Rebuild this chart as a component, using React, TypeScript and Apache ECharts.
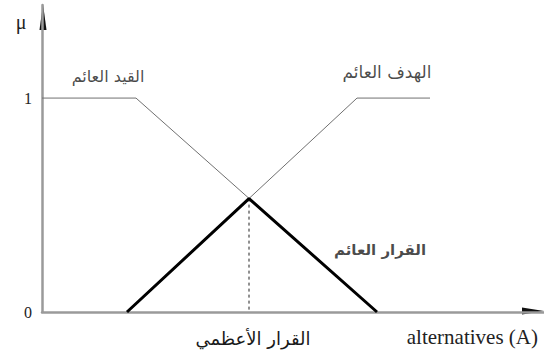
import { useEffect, useRef } from "react";
import * as echarts from "echarts";

// Membership functions over the alternatives axis
const constraintPts: number[][] = [[0, 1], [9.4, 1], [33.5, 0]];
const goalPts: number[][] = [[8.5, 0], [31.5, 1], [38.8, 1]];
const decisionPts: number[][] = [[8.5, 0], [20.7, 0.53], [33.5, 0]];
const optimumPts: number[][] = [[20.7, 0.53], [20.7, 0]];

// Curve names placed near their curves: x, y, text, font size, bold flag
const curveLabels: (number | string)[][] = [
  [6.6, 1.1, "القيد العائم", 16, 0],
  [34.5, 1.12, "الهدف العائم", 17, 0],
  [33.8, 0.29, "القرار العائم", 15, 1],
];

const optimumLabel = "القرار الأعظمي";
const xAxisTitle = "alternatives (A)";
const yAxisTitle = "μ";
const yTickValues = [0, 1];

export default function App() {
  const ref = useRef<HTMLDivElement>(null);

  useEffect(() => {
    if (!ref.current) return;
    document.body.style.margin = "0";
    const chart = echarts.init(ref.current, null, { renderer: "svg" });
    const arabicFont = "'DejaVu Sans', 'Noto Sans', sans-serif";
    const serifFont = "'Liberation Serif', 'DejaVu Serif', serif";

    chart.setOption({
      animation: false,
      backgroundColor: "#ffffff",
      grid: { left: 42, right: 0, top: 5, bottom: 47 },
      xAxis: {
        type: "value",
        min: 0,
        max: 50.2,
        axisLine: { show: true, lineStyle: { color: "#9a9a9a", width: 2.5 } },
        axisTick: { show: false },
        axisLabel: { show: false },
        splitLine: { show: false },
      },
      yAxis: {
        type: "value",
        min: 0,
        max: 1.435,
        interval: 1,
        axisLine: { show: true, lineStyle: { color: "#9a9a9a", width: 2.5 } },
        axisTick: { show: false },
        splitLine: { show: false },
        axisLabel: {
          showMaxLabel: false,
          margin: 10,
          color: "#222",
          fontFamily: serifFont,
          fontSize: 16,
          formatter: (v: number) => (yTickValues.includes(v) ? String(v) : ""),
        },
      },
      graphic: [
        {
          type: "polygon",
          shape: { points: [[43, 4], [39.5, 30], [46.5, 30]] },
          style: { fill: "#111" },
        },
        {
          type: "polygon",
          shape: { points: [[544, 311], [522, 307.5], [522, 314.5]] },
          style: { fill: "#111" },
        },
        {
          type: "text",
          x: 21,
          y: 22,
          style: {
            text: yAxisTitle,
            font: `20px ${serifFont}`,
            fill: "#222",
            align: "center",
            verticalAlign: "middle",
          },
        },
        {
          type: "text",
          x: 538,
          y: 337,
          style: {
            text: xAxisTitle,
            font: `21px ${serifFont}`,
            fill: "#222",
            align: "right",
            verticalAlign: "middle",
          },
        },
        {
          type: "text",
          x: 253,
          y: 338,
          style: {
            text: optimumLabel,
            font: `18px ${arabicFont}`,
            fill: "#1a1a1a",
            align: "center",
            verticalAlign: "middle",
          },
        },
      ],
      series: [
        {
          type: "line",
          data: constraintPts,
          symbol: "none",
          lineStyle: { color: "#707070", width: 1 },
          silent: true,
        },
        {
          type: "line",
          data: goalPts,
          symbol: "none",
          lineStyle: { color: "#707070", width: 1 },
          silent: true,
        },
        {
          type: "line",
          data: optimumPts,
          symbol: "none",
          lineStyle: { color: "#222", width: 1, type: [3, 3] },
          silent: true,
        },
        {
          type: "line",
          data: decisionPts,
          symbol: "none",
          lineStyle: { color: "#000", width: 3 },
          silent: true,
        },
        {
          type: "scatter",
          symbolSize: 0,
          silent: true,
          data: curveLabels.map((d) => ({
            value: d,
            label: {
              show: true,
              position: "inside",
              color: "#1a1a1a",
              fontFamily: arabicFont,
              fontSize: Number(d[3]),
              fontWeight: d[4] ? "bold" : "normal",
              formatter: String(d[2]),
            },
          })),
        },
      ],
    });

    return () => chart.dispose();
  }, []);

  return <div ref={ref} style={{ width: 544, height: 359 }} />;
}
